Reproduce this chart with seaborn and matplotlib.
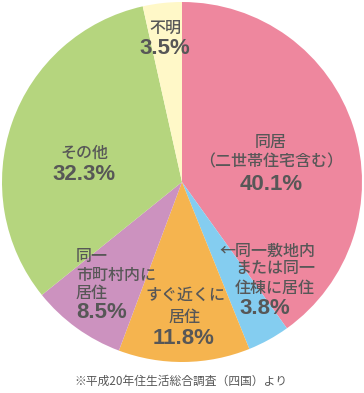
import matplotlib
matplotlib.use("Agg")
import matplotlib.pyplot as plt
import seaborn as sns

sns.set_style("white")
plt.rcParams['font.family'] = ['Noto Sans CJK JP', 'DejaVu Sans']

categories = ["同居（二世帯住宅含む）", "同一敷地内または同一住棟に居住", "すぐ近くに居住",
              "同一市町村内に居住", "その他", "不明"]
values = [40.1, 3.8, 11.8, 8.5, 32.3, 3.5]
colors = ["#EE879E", "#84CDF0", "#F5B44F", "#CC92BF", "#B5D57E", "#FFF8C8"]
caption = "※平成20年住生活総合調査（四国）より"

W, H = 364, 393
fig = plt.figure(figsize=(W / 100, H / 100), dpi=100)
cx, cy, r = 182, 182, 180
ax = fig.add_axes([(cx - r) / W, (H - cy - r) / H, 2 * r / W, 2 * r / H])
ax.pie(values, colors=colors, startangle=90, counterclock=False, radius=1,
       wedgeprops=dict(linewidth=0))
ax.set_xlim(-1, 1)
ax.set_ylim(-1, 1)
ax.set_aspect('auto')
ax.axis('off')

tc = "#575757"

def T(px, py, s, size, weight='medium', ha='center', family=None):
    kw = {}
    if family:
        kw['family'] = family
    fig.text(px / W, 1 - py / H, s, fontsize=size, color=tc, ha=ha, va='center',
             fontweight=weight, **kw)

LS, PS = 11.5, 16
PF = ['Liberation Sans', 'DejaVu Sans']

def P(px, py, v, ha='center'):
    T(px, py, f"{v}%", PS, 'bold', ha=ha, family=PF)

# 同居
T(271, 142, "同居", LS)
T(271, 162, "（二世帯住宅含む）", LS)
P(271, 185, values[0])
# 同一敷地内
T(219, 251, "←同一敷地内", LS, ha='left')
T(235, 269, "または同一", LS, ha='left')
T(235, 288, "住棟に居住", LS, ha='left')
P(239, 308, values[1], ha='left')
# すぐ近くに
T(185, 295, "すぐ近くに", LS)
T(185, 317, "居住", LS)
P(184, 338, values[2])
# 同一市町村内
T(76, 257, "同一", LS, ha='left')
T(76, 275, "市町村内に", LS, ha='left')
T(76, 293, "居住", LS, ha='left')
P(76, 313, values[3], ha='left')
# その他
T(84, 153, "その他", LS)
P(84, 174, values[4])
# 不明
T(165, 28, "不明", LS)
P(165, 48, values[5])

T(181, 381, caption, 8.5, 'normal')

fig.savefig("out.png", dpi=100, facecolor="white")
